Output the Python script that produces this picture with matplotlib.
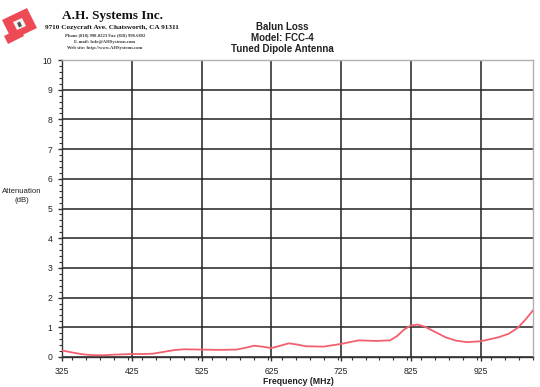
import matplotlib
matplotlib.use("Agg")
import matplotlib.pyplot as plt
from matplotlib.patches import Polygon
from matplotlib.ticker import MultipleLocator, FixedLocator

freq_mhz = [325, 340, 355, 370, 385, 400, 425, 440, 455, 470, 485, 500, 525, 550,
            575, 590, 600, 612, 625, 638, 650, 662, 675, 700, 725, 750, 775, 795,
            805, 815, 825, 835, 845, 860, 875, 890, 905, 925, 950, 965, 978, 990, 1000]
atten_db = [0.22, 0.15, 0.09, 0.06, 0.06, 0.08, 0.10, 0.10, 0.11, 0.17, 0.23, 0.26,
            0.25, 0.24, 0.25, 0.32, 0.38, 0.35, 0.30, 0.38, 0.46, 0.42, 0.36, 0.35,
            0.44, 0.56, 0.54, 0.56, 0.70, 0.92, 1.06, 1.09, 1.02, 0.84, 0.66, 0.55,
            0.50, 0.53, 0.66, 0.78, 0.98, 1.28, 1.57]
x_ticks = [325, 425, 525, 625, 725, 825, 925]
y_ticks = list(range(0, 11))
title_lines = ["Balun Loss", "Model: FCC-4", "Tuned Dipole Antenna"]
company = "A.H. Systems Inc."
address = "9710 Cozycraft Ave. Chatsworth, CA 91311"
contact_lines = ["Phone (818) 998-0223 Fax (818) 998-6892",
                 "E-mail: Info@AHSystems.com",
                 "Web site: http://www.AHSystems.com"]

W, H = 540, 387
fig = plt.figure(figsize=(W / 100, H / 100), dpi=100)
fig.patch.set_facecolor("white")
plt.rcParams["font.family"] = ["Liberation Sans", "DejaVu Sans"]

ax = fig.add_axes([62 / W, 1 - 357 / H, (533 - 62) / W, (357 - 60) / H])
ax.plot(freq_mhz, atten_db, color="#f2606e", lw=1.3, zorder=3)
ax.set_xlim(325, 1000)
ax.set_ylim(0, 10)
ax.xaxis.set_major_locator(FixedLocator(x_ticks))
ax.xaxis.set_minor_locator(MultipleLocator(20))
ax.yaxis.set_major_locator(FixedLocator(y_ticks))
ax.yaxis.set_minor_locator(MultipleLocator(0.2))
ax.grid(True, which="major", color="#222222", lw=1.1)
ax.set_axisbelow(True)
for s in ["top", "right"]:
    ax.spines[s].set_color("#b0b0b0")
    ax.spines[s].set_linewidth(1.0)
for s in ["left", "bottom"]:
    ax.spines[s].set_color("#333333")
    ax.spines[s].set_linewidth(1.0)
ax.tick_params(which="major", direction="out", length=3, width=1, colors="#333333",
               labelsize=6.2, labelcolor="#222222")
ax.tick_params(which="minor", direction="out", length=2, width=0.8, colors="#333333")
ax.tick_params(axis="x", pad=4)
ax.tick_params(axis="y", pad=4)

fig.text(22 / W, 1 - 196 / H, "Attenuation\n(dB)", ha="center", va="center",
         fontsize=5.6, color="#222222", linespacing=1.35)
fig.text(298 / W, 1 - 381 / H, "Frequency (MHz)", ha="center", va="center",
         fontsize=6.3, fontweight="bold", color="#222222")

for i, t in enumerate(title_lines):
    fig.text(282 / W, 1 - (27 + 11 * i) / H, t, ha="center", va="center",
             fontsize=7, fontweight="bold", color="#222222")

serif = ["Liberation Serif", "DejaVu Serif"]
fig.text(112 / W, 1 - 16 / H, company, ha="center", va="center",
         fontsize=9.5, fontweight="bold", family=serif, color="#111111")
fig.text(112 / W, 1 - 28 / H, address, ha="center", va="center",
         fontsize=5.2, fontweight="bold", family=serif, color="#111111")
for i, t in enumerate(contact_lines):
    fig.text(105 / W, 1 - (35.5 + 6.5 * i) / H, t, ha="center", va="center",
             fontsize=3.3, fontweight="bold", family=serif, color="#333333")

# logo
def px(x, y):
    return (x / W, 1 - y / H)

red = "#ee4a55"
fig.patches.append(Polygon([px(2, 20), px(27, 8), px(37, 28), px(12, 40)],
                           closed=True, transform=fig.transFigure, facecolor=red,
                           edgecolor="none"))
fig.patches.append(Polygon([px(4, 36), px(20, 28), px(24, 36), px(8, 44)],
                           closed=True, transform=fig.transFigure, facecolor=red,
                           edgecolor="none"))
fig.patches.append(Polygon([px(13, 22), px(22, 18), px(26, 26), px(17, 30)],
                           closed=True, transform=fig.transFigure, facecolor="#f4f4f4",
                           edgecolor="none"))
fig.patches.append(Polygon([px(17, 23), px(20, 21.5), px(22, 26), px(19, 27.5)],
                           closed=True, transform=fig.transFigure, facecolor="#555555",
                           edgecolor="none"))

fig.savefig("out.png", dpi=100)
